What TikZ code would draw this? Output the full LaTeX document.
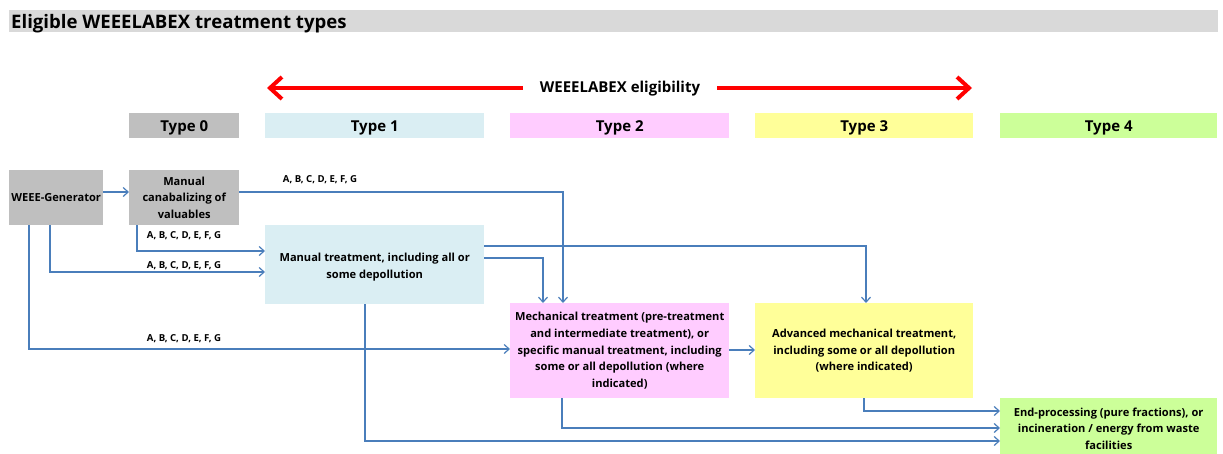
\documentclass[tikz,border=0pt]{standalone}
\usepackage{fontspec}
\setmainfont{Open Sans}
\usetikzlibrary{arrows.meta}
\definecolor{titlegray}{HTML}{D9D9D9}
\definecolor{boxgray}{HTML}{BFBFBF}
\definecolor{tblue}{HTML}{DAEEF3}
\definecolor{tpink}{HTML}{FFCCFF}
\definecolor{tyellow}{HTML}{FFFF99}
\definecolor{tgreen}{HTML}{CCFF99}
\definecolor{conncol}{HTML}{4A7EBB}
\definecolor{redcol}{HTML}{FF0000}
\tikzset{
  box/.style={draw=none, inner sep=0pt, anchor=north west, align=center,
    font=\fontsize{11.1}{16.8}\selectfont\bfseries},
  typehdr/.style={draw=none, inner sep=0pt, anchor=north west, text depth=0pt,
    minimum height=25pt, font=\fontsize{15}{17}\selectfont\bfseries},
  conn/.style={draw=conncol, line width=1.2pt, -{Straight Barb[length=5pt,width=9pt]}},
  redarr/.style={draw=redcol, line width=4pt, -{Straight Barb[length=12pt,width=22pt]}},
  lbl/.style={inner sep=0pt, anchor=base, font=\fontsize{9.6}{11}\selectfont\bfseries},
}
\begin{document}
\begin{tikzpicture}[x=1pt,y=-1pt]
\useasboundingbox (0,0) rectangle (1223,453);
% title
\fill[titlegray] (9,10) rectangle (1218,32);
\node[anchor=base west, inner sep=0pt, font=\fontsize{18.6}{20}\selectfont\bfseries] (title) at (11,28) {Eligible WEEELABEX treatment types};
% eligibility arrow
\node[inner sep=0pt, text depth=0pt, minimum width=194pt, font=\fontsize{15}{17}\selectfont\bfseries] (elig) at (620,87) {WEEELABEX eligibility};
\coordinate (rl) at (267,88);
\coordinate (rr) at (972,88);
\draw[redarr] (elig.west |- rl) -- (rl);
\draw[redarr] (elig.east |- rr) -- (rr);
% type headers
\node[typehdr, fill=boxgray, minimum width=110pt] (t0) at (129,113) {Type 0};
\node[typehdr, fill=tblue, minimum width=219pt] (t1) at (265,113) {Type 1};
\node[typehdr, fill=tpink, minimum width=219pt] (t2) at (510,113) {Type 2};
\node[typehdr, fill=tyellow, minimum width=218pt] (t3) at (755,113) {Type 3};
\node[typehdr, fill=tgreen, minimum width=217pt] (t4) at (1000,113) {Type 4};
% boxes
\node[box, fill=boxgray, minimum width=94pt, minimum height=55pt] (gen) at (9,170) {WEEE-Generator};
\node[box, fill=boxgray, minimum width=110pt, minimum height=55pt] (canab) at (129,170) {Manual\\canabalizing of\\valuables};
\node[box, fill=tblue, minimum width=219pt, minimum height=79pt] (man) at (265,225) {\rule{0pt}{14pt}Manual treatment, including all or\\some depollution};
\node[box, fill=tpink, minimum width=219pt, minimum height=95pt] (mech) at (510,303) {Mechanical treatment (pre-treatment\\and intermediate treatment), or\\specific manual treatment, including\\some or all depollution (where\\indicated)};
\node[box, fill=tyellow, minimum width=218pt, minimum height=95pt] (adv) at (755,303) {Advanced mechanical treatment,\\including some or all depollution\\(where indicated)};
\node[box, fill=tgreen, minimum width=217pt, minimum height=61pt] (endp) at (1000,398) {End-processing (pure fractions), or\\incineration / energy from waste\\facilities};
% helper coordinates
\coordinate (xa) at (29,0);
\coordinate (xb) at (50,0);
\coordinate (xc) at (137,0);
\coordinate (xd) at (365,0);
\coordinate (xe) at (543,0);
\coordinate (xf) at (563,0);
\coordinate (xg) at (562,0);
\coordinate (xh) at (866,0);
\coordinate (xi) at (864,0);
\coordinate (y192) at (0,192);
\coordinate (y246) at (0,246);
\coordinate (y251) at (0,251);
\coordinate (y258) at (0,258);
\coordinate (y272) at (0,272);
\coordinate (y349) at (0,349);
\coordinate (y350) at (0,350);
\coordinate (y411) at (0,411);
\coordinate (y428) at (0,428);
\coordinate (y441) at (0,441);
% connectors
\draw[conn] (gen.east |- y192) -- (canab.west |- y192);
\draw[conn] (canab.east |- y192) -| (mech.north -| xf);
\draw[conn] (canab.south -| xc) |- (man.west |- y251);
\draw[conn] (gen.south -| xb) |- (man.west |- y272);
\draw[conn] (gen.south -| xa) |- (mech.west |- y349);
\draw[conn] (man.east |- y246) -| (adv.north -| xh);
\draw[conn] (man.east |- y258) -| (mech.north -| xe);
\draw[conn] (man.south -| xd) |- (endp.west |- y441);
\draw[conn] (mech.east |- y350) -- (adv.west |- y350);
\draw[conn] (mech.south -| xg) |- (endp.west |- y428);
\draw[conn] (adv.south -| xi) |- (endp.west |- y411);
% labels
\node[lbl] (l1) at (320,182.3) {A, B, C, D, E, F, G};
\node[lbl] (l2) at (184,238.7) {A, B, C, D, E, F, G};
\node[lbl] (l3) at (184,268.3) {A, B, C, D, E, F, G};
\node[lbl] (l4) at (184,341.3) {A, B, C, D, E, F, G};
\end{tikzpicture}
\end{document}
